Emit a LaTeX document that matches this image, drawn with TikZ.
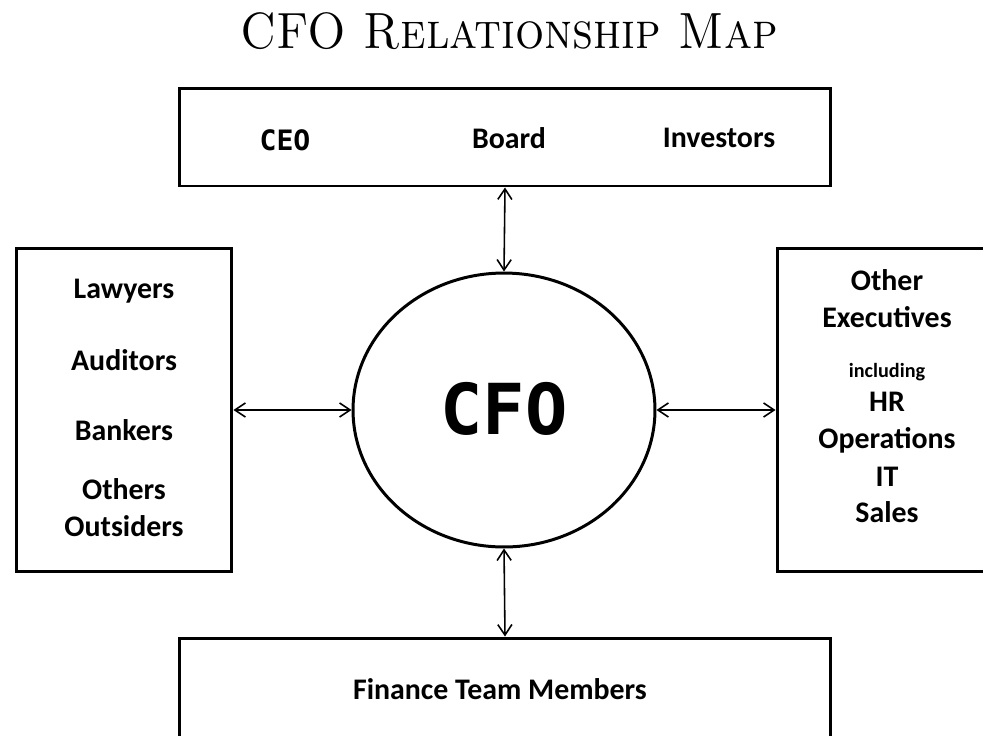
\documentclass[tikz,border=0pt]{standalone}
\usepackage{fontspec}
\setsansfont{Carlito}
\newfontfamily\cfomono{DejaVu Sans Mono}
\usetikzlibrary{shapes.geometric, arrows.meta}
\tikzset{
  box/.style={draw, line width=1.7pt, inner sep=0pt},
  lbl/.style={anchor=base, inner sep=0pt, font=\sffamily\bfseries\fontsize{17}{19}\selectfont},
  link/.style={{Straight Barb[length=6pt,width=8pt]}-{Straight Barb[length=6pt,width=8pt]}, line width=0.9pt}
}
\begin{document}
\begin{tikzpicture}[x=0.02cm, y=-0.02cm]
\useasboundingbox (0,0) rectangle (983,735);
\node[anchor=base, inner sep=0pt] (title) at (509,48) {\scalebox{0.9}[1]{\fontsize{29}{30}\selectfont\textsc{CFO Relationship Map}}};

\node[box, minimum width=13.04cm, minimum height=1.96cm] (top) at (505,137) {};
\node[box, minimum width=4.32cm, minimum height=6.48cm] (left) at (124,410) {};
\node[box, minimum width=4.52cm, minimum height=6.48cm] (right) at (890,410) {};
\node[box, minimum width=13.04cm, minimum height=2.44cm] (bottom) at (505,699) {};
\node[box, ellipse, minimum width=6.04cm, minimum height=5.48cm] (cfo) at (504,410) {};

\node[lbl, font=\cfomono\bfseries\fontsize{16}{19}\selectfont] (ceo) at (285,150) {CEO};
\node[lbl] (board) at (509,148) {Board};
\node[lbl] (investors) at (719,147) {Investors};

\node[lbl] (lawyers) at (124,298) {Lawyers};
\node[lbl] (auditors) at (124,370) {Auditors};
\node[lbl] (bankers) at (124,440) {Bankers};
\node[lbl] (others) at (124,499) {Others};
\node[lbl] (outsiders) at (124,536) {Outsiders};

\node[lbl] (other) at (887,290) {Other};
\node[lbl] (execs) at (887,327) {Executives};
\node[lbl, font=\sffamily\bfseries\fontsize{11.5}{13}\selectfont] (incl) at (887,377) {including};
\node[lbl] (hr) at (887,411) {HR};
\node[lbl] (ops) at (887,448) {Operations};
\node[lbl] (it) at (887,486) {IT};
\node[lbl] (sales) at (887,522) {Sales};

\node[lbl, font=\cfomono\bfseries\fontsize{40}{42}\selectfont] (cfotext) at (504,434) {CFO};
\node[lbl] (team) at (500,699) {Finance Team Members};

\draw[link] (top.south) -- (cfo.north);
\draw[link] (left.east) -- (cfo.west);
\draw[link] (cfo.east) -- (right.west);
\draw[link] (cfo.south) -- (bottom.north);
\end{tikzpicture}
\end{document}
